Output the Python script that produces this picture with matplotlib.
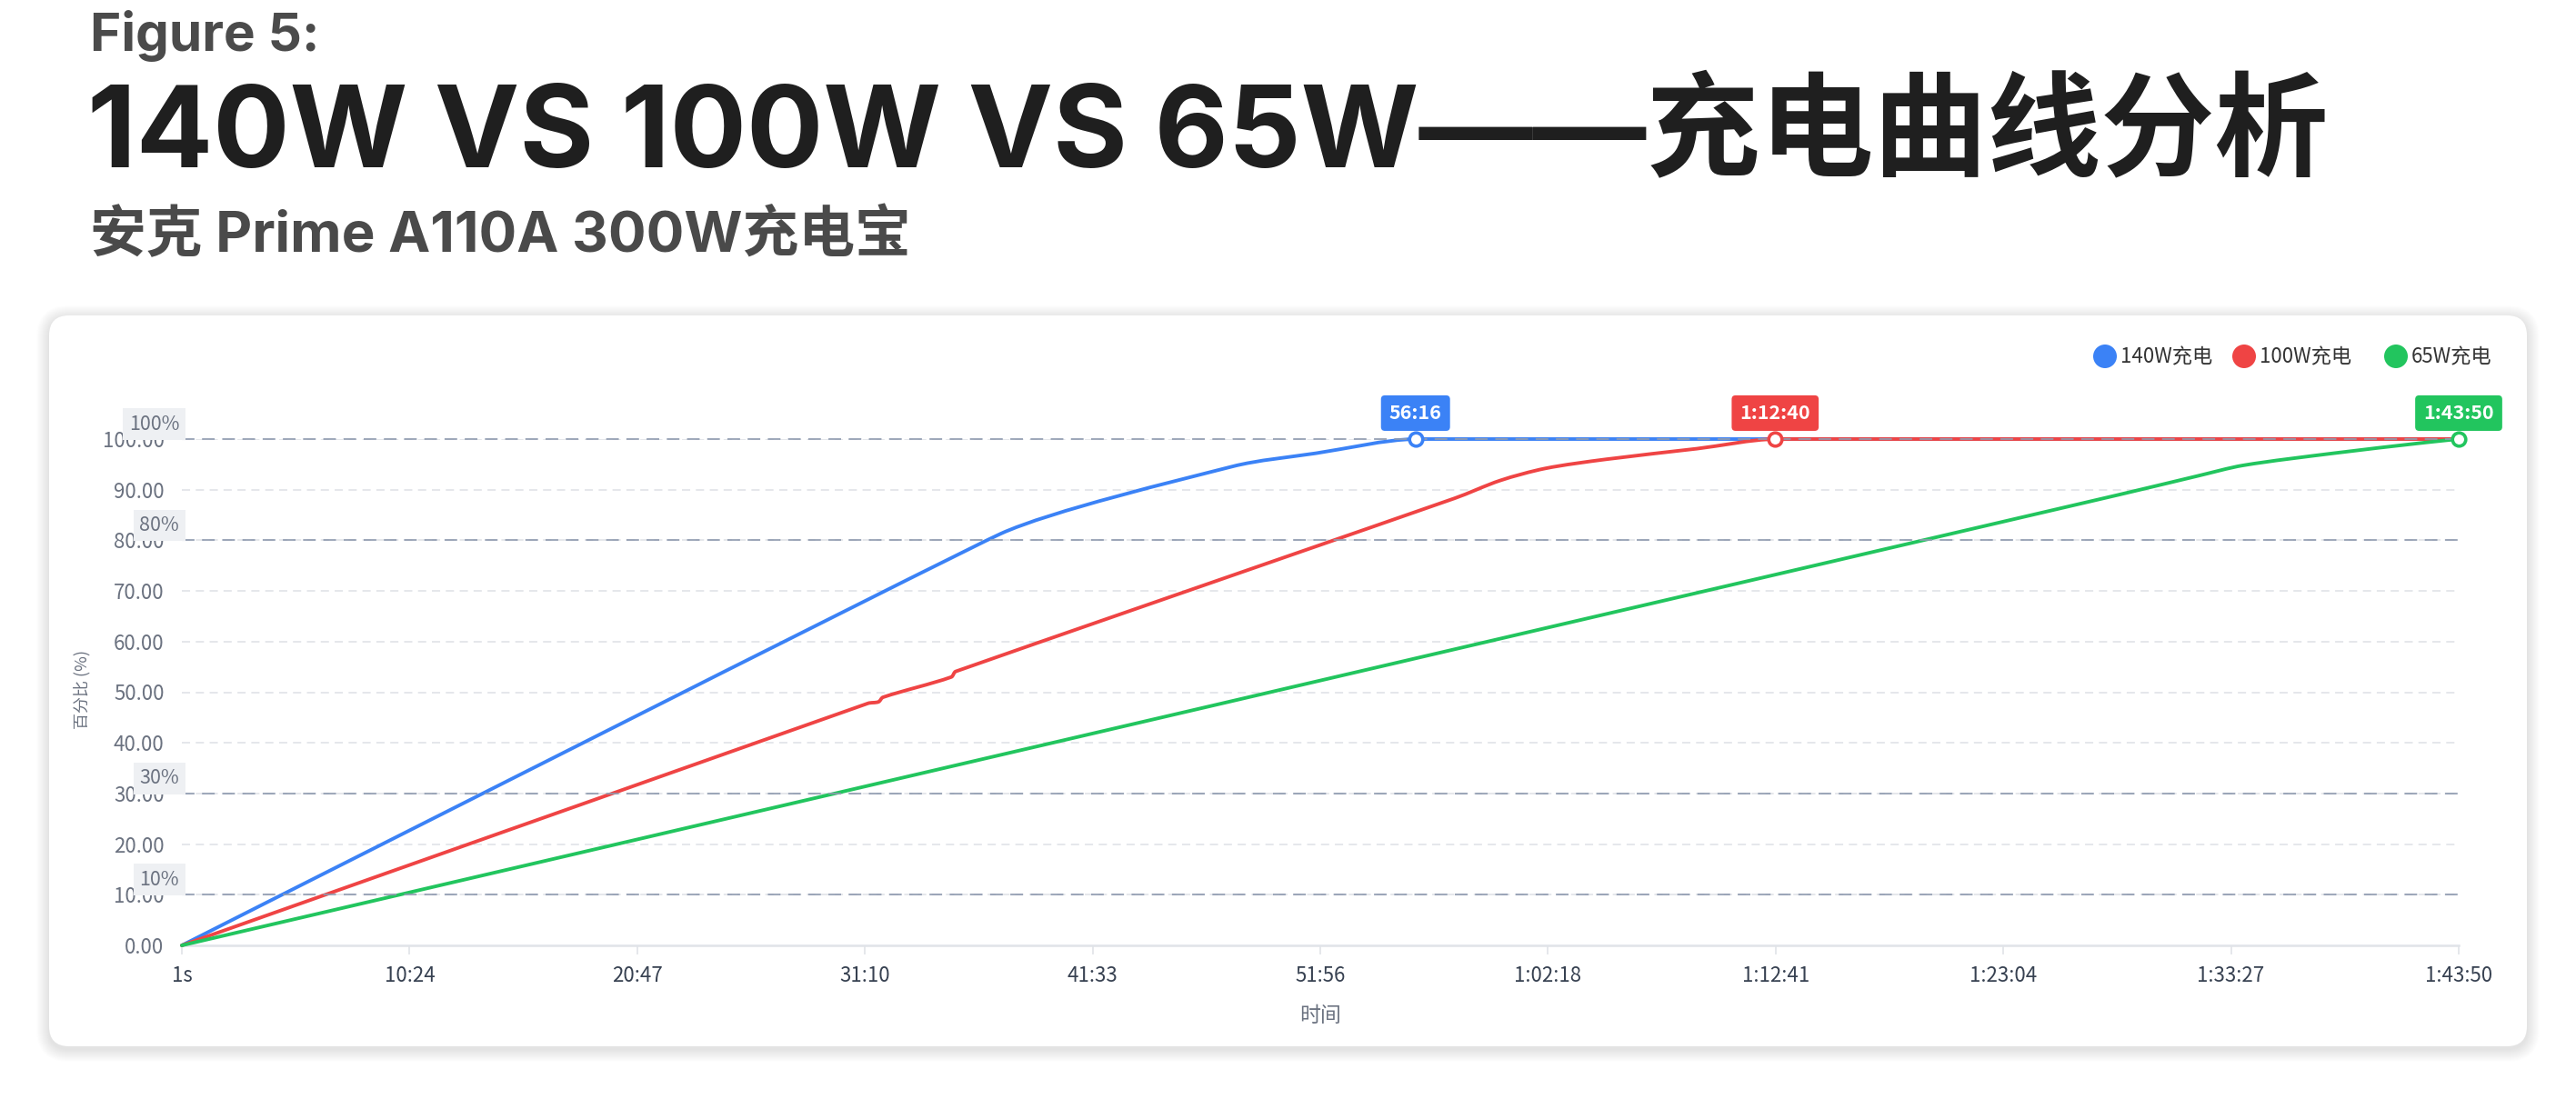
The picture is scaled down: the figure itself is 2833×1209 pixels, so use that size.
import matplotlib
matplotlib.use("Agg")
import matplotlib.pyplot as plt
import numpy as np
from matplotlib.patches import FancyBboxPatch, Circle, PathPatch
from matplotlib.path import Path
from matplotlib.transforms import IdentityTransform

# ---- data (seconds, percent) ----
t_140 = [1, 2241, 2876, 3104, 3376, 6230]
p_140 = [0, 81.3, 94.6, 97.2, 100, 100]

t_100 = [1, 1878, 1907, 1919, 2106, 2118, 3483, 3607, 3731, 3897, 4146, 4360, 6230]
p_100 = [0, 47.8, 48.1, 49.0, 53.0, 54.1, 88.3, 91.8, 94.2, 96.0, 98.1, 100, 100]

t_65 = [1, 5300, 5515, 5640, 5888, 6137, 6230]
p_65 = [0, 89.0, 92.7, 94.8, 97.2, 99.3, 100]

series_names = ["140W充电", "100W充电", "65W充电"]
series_colors = ["#3b82f6", "#ef4444", "#22c55e"]
end_times = [3376, 4360, 6230]
end_labels = ["56:16", "1:12:40", "1:43:50"]

x_ticks = [1, 624, 1247, 1870, 2493, 3116, 3738, 4361, 4984, 5607, 6230]
x_tick_labels = ["1s", "10:24", "20:47", "31:10", "41:33", "51:56",
                 "1:02:18", "1:12:41", "1:23:04", "1:33:27", "1:43:50"]
y_ticks = [0, 10, 20, 30, 40, 50, 60, 70, 80, 90, 100]
mark_values = [100, 80, 30, 10]
mark_labels = ["100%", "80%", "30%", "10%"]

W, H = 2833, 1209
plt.rcParams["lines.scale_dashes"] = False
CJK = ["Noto Sans CJK SC", "DejaVu Sans"]
TITLE = ["Inter", "Noto Sans CJK SC", "DejaVu Sans"]

fig = plt.figure(figsize=(W / 100, H / 100), dpi=100)
fig.patch.set_facecolor("white")

AX_L, AX_R, AX_T, AX_B = 200, 2704, 483, 1040
XMIN, XMAX = 1, 6230


def fx(x):
    return x / W


def fy(y):
    return 1 - y / H


def smooth_path(ts, ps, k=0.3, max_len=60.0):
    # bezier smoothing, computed in pixel space; handle length capped so
    # knees stay fairly sharp
    sx = (AX_R - AX_L) / (XMAX - XMIN)
    sy = (AX_B - AX_T) / 100.0
    P = np.column_stack([np.array(ts, float) * sx, np.array(ps, float) * sy])
    n = len(P)
    cin = np.zeros_like(P)
    cout = np.zeros_like(P)
    for i in range(1, n - 1):
        v = P[i + 1] - P[i - 1]
        v = v / np.hypot(*v)
        d0 = np.hypot(*(P[i] - P[i - 1]))
        d1 = np.hypot(*(P[i + 1] - P[i]))
        cin[i] = v * min(k * d0, max_len)
        cout[i] = v * min(k * d1, max_len)
    verts = [P[0]]
    codes = [Path.MOVETO]
    for i in range(n - 1):
        a = P[i] + cout[i]
        b = P[i + 1] - cin[i + 1]
        lo, hi = sorted([P[i][1], P[i + 1][1]])
        a[1] = min(max(a[1], lo), hi)
        b[1] = min(max(b[1], lo), hi)
        verts += [a, b, P[i + 1]]
        codes += [Path.CURVE4] * 3
    verts = np.array(verts)
    verts[:, 0] /= sx
    verts[:, 1] /= sy
    return Path(verts, codes)


# titles
fig.text(fx(99), fy(56), "Figure 5:", family=TITLE, weight="bold", size=42,
         color="#4b4b4b", va="baseline", ha="left")
fig.text(fx(96), fy(184), "140W VS 100W VS 65W——充电曲线分析", family=TITLE,
         weight="bold", size=90, color="#1f1f1f", va="baseline", ha="left")
fig.text(fx(99), fy(277), "安克 Prime A110A 300W充电宝", family=TITLE,
         weight="bold", size=44.5, color="#4a4a4a", va="baseline", ha="left")

# card with soft shadow (pixel coords, bottom origin)
cx0, cy0, cw, ch = 54, H - 1151, 2725, 804
for i in range(14, 0, -1):
    fig.patches.append(FancyBboxPatch(
        (cx0 - i, cy0 - i - 3), cw + 2 * i, ch + 2 * i,
        boxstyle="round,pad=0,rounding_size=%d" % (22 + i),
        fc="black", ec="none", alpha=0.007, transform=IdentityTransform(),
        zorder=-2))
fig.patches.append(FancyBboxPatch(
    (cx0, cy0), cw, ch, boxstyle="round,pad=0,rounding_size=22",
    fc="white", ec="none", transform=IdentityTransform(), zorder=-1))

ax = fig.add_axes([fx(AX_L), fy(AX_B), (AX_R - AX_L) / W, (AX_B - AX_T) / H])
ax.set_zorder(2)
ax.patch.set_alpha(0)
ax.set_xlim(XMIN, XMAX)
ax.set_ylim(0, 100)

# grid + mark lines
for v in y_ticks[1:]:
    ax.axhline(v, color="#e5e7eb", lw=1.4, dashes=(6.5, 4.5), zorder=1)
for v, lab in zip(mark_values, mark_labels):
    ax.axhline(v, color="#8f9bb0", lw=1.5, dashes=(10, 6), alpha=0.85,
               zorder=4, clip_on=False)
    ax.annotate(lab, xy=(1, v), xytext=(-2, 7.5), textcoords="offset points",
                ha="right", va="baseline", family=CJK, size=15.5,
                color="#6b7280", zorder=6, annotation_clip=False,
                bbox=dict(boxstyle="square,pad=0.3", fc="#eef0f3", ec="none"))

# series
for t, p, c in zip([t_140, t_100, t_65], [p_140, p_100, p_65], series_colors):
    ax.add_patch(PathPatch(smooth_path(t, p), fc="none", ec=c, lw=2.8,
                           zorder=3, clip_on=False, joinstyle="round",
                           capstyle="round"))

for t, lab, c in zip(end_times, end_labels, series_colors):
    ax.plot([t], [100], "o", ms=10.5, mfc="white", mec=c, mew=2.6,
            zorder=7, clip_on=False)
    ax.annotate(lab, xy=(t, 100), xytext=(0, 13), textcoords="offset points",
                ha="center", va="bottom", family=CJK, weight="bold", size=15.5,
                color="white", zorder=8, annotation_clip=False,
                bbox=dict(boxstyle="round,pad=0.42,rounding_size=0.2",
                          fc=c, ec="none"))

# axes styling
for s in ["top", "right", "left"]:
    ax.spines[s].set_visible(False)
ax.spines["bottom"].set_color("#e0e3e8")
ax.spines["bottom"].set_linewidth(1.8)
ax.set_xticks(x_ticks)
ax.set_xticklabels(x_tick_labels, family=CJK, size=16, color="#374151")
ax.set_yticks(y_ticks)
ax.set_yticklabels(["%.2f" % v for v in y_ticks], family=CJK, size=16,
                   color="#6b7280")
ax.tick_params(axis="x", length=7, width=1.2, color="#e0e3e8", pad=9)
ax.tick_params(axis="y", length=0, pad=14)

fig.text(fx(1452), fy(1118), "时间", family=CJK, size=16.5, color="#6b7280",
         ha="center", va="center")
fig.text(fx(91), fy(759), "百分比 (%)", family=CJK, size=13, color="#6b7280",
         ha="center", va="center", rotation=90)

# legend
leg_x = [2315, 2468, 2635]
for x, name, c in zip(leg_x, series_names, series_colors):
    fig.patches.append(Circle((x, H - 392), 13, fc=c, ec="none",
                              transform=IdentityTransform(), zorder=3))
    fig.text(fx(x + 17), fy(393), name, family=CJK, size=16, color="#333333",
             ha="left", va="center")

fig.savefig("out.png", dpi=100, facecolor="white")
